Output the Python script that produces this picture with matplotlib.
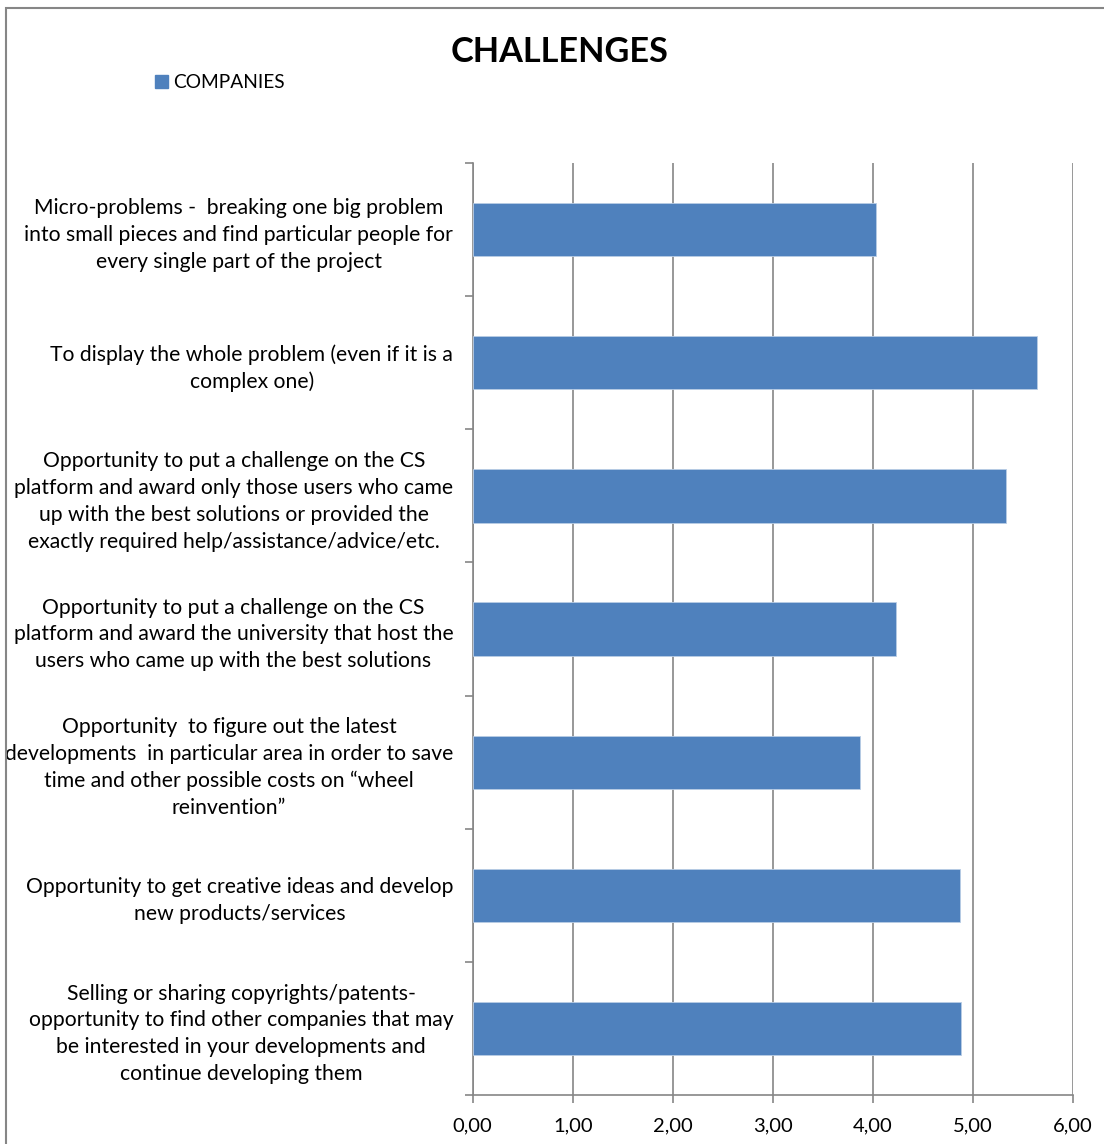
import matplotlib.pyplot as plt
import numpy as np
from matplotlib.patches import Rectangle

plt.rcParams['font.family'] = ['Lato', 'DejaVu Sans']

# data, top to bottom
categories = [
    "Micro-problems -  breaking one big problem\ninto small pieces and find particular people for\nevery single part of the project",
    "To display the whole problem (even if it is a\ncomplex one)",
    "Opportunity to put a challenge on the CS\nplatform and award only those users who came\nup with the best solutions or provided the\nexactly required help/assistance/advice/etc.",
    "Opportunity to put a challenge on the CS\nplatform and award the university that host the\nusers who came up with the best solutions",
    "Opportunity  to figure out the latest\ndevelopments  in particular area in order to save\ntime and other possible costs on \u201cwheel\nreinvention\u201d",
    "Opportunity to get creative ideas and develop\nnew products/services",
    "Selling or sharing copyrights/patents-\nopportunity to find other companies that may\nbe interested in your developments and\ncontinue developing them",
]
values = [4.03, 5.64, 5.33, 4.23, 3.87, 4.87, 4.88]
series_name = "COMPANIES"
xticks = [0, 1, 2, 3, 4, 5, 6]
xtick_labels = ["0,00", "1,00", "2,00", "3,00", "4,00", "5,00", "6,00"]

bar_color = "#4F81BD"
grid_color = "#868686"

fig = plt.figure(figsize=(11.04, 11.44), dpi=100)
ax = fig.add_axes([0.4282, 0.0428, 0.5433, 0.8147])

n = len(categories)
pos = np.arange(n)[::-1]  # first category at top
ax.barh(pos, values, height=0.4, color=bar_color, edgecolor="#B9CDE5", linewidth=0.6,
        zorder=3, label=series_name)

ax.set_xlim(0, 6)
ax.set_ylim(-0.5, n - 0.5)

ax.set_xticks(xticks)
ax.set_xticklabels(xtick_labels, fontsize=14.5)
ax.xaxis.grid(True, color=grid_color, linewidth=1.2, zorder=0)

# tick marks at category boundaries, labels at centres
ax.set_yticks(np.arange(n + 1) - 0.5)
ax.set_yticklabels([])
ax.set_yticks(pos, minor=True)
ax.set_yticklabels(categories, minor=True, fontsize=15.2, ha="right",
                   multialignment="center", linespacing=1.43)
ax.tick_params(axis="y", which="minor", length=0, pad=14)
ax.tick_params(axis="y", which="major", length=6, color=grid_color, width=1.2)
ax.tick_params(axis="x", length=6, color=grid_color, width=1.2, pad=10)

for s in ["top", "right"]:
    ax.spines[s].set_visible(False)
for s in ["left", "bottom"]:
    ax.spines[s].set_color(grid_color)
    ax.spines[s].set_linewidth(1.2)

fig.text(0.507, 1 - 52 / 1144, "CHALLENGES", fontsize=24.7, fontweight="bold", ha="center", va="center")

# legend
fig.patches.append(Rectangle((155 / 1104, 1 - 88 / 1144), 13 / 1104, 13 / 1144,
                             transform=fig.transFigure, color=bar_color))
fig.text(173 / 1104, 1 - 82 / 1144, series_name, fontsize=13.8, va="center", ha="left")

# outer frame
fig.patches.append(Rectangle((6 / 1104, -0.01), 1.05, 1 - 8 / 1144 + 0.01,
                             transform=fig.transFigure, fill=False,
                             edgecolor="#868686", linewidth=1.5))

plt.savefig("out.png", dpi=100)
